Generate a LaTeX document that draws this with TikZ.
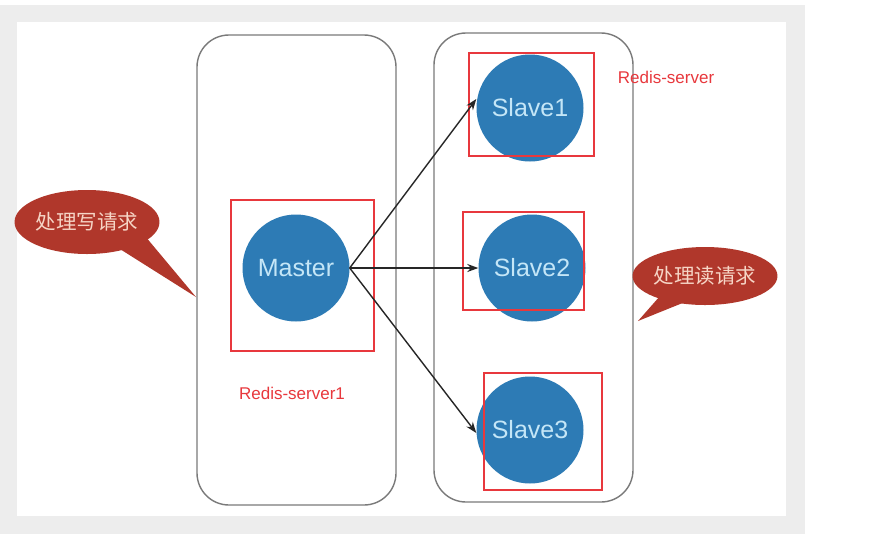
\documentclass[tikz,border=0pt]{standalone}
\usepackage{fontspec}
\setmainfont{Liberation Sans}
\newfontfamily\cjk{Noto Sans CJK SC}
\usetikzlibrary{arrows.meta,shapes.geometric}
\definecolor{nodeblue}{HTML}{2D7BB5}
\definecolor{nodetext}{HTML}{C4E6F7}
\definecolor{bubred}{HTML}{B0372B}
\definecolor{bubtext}{HTML}{F6D5C6}
\definecolor{redbox}{HTML}{E8383D}
\definecolor{bggray}{HTML}{EDEDED}
\definecolor{boxgray}{HTML}{7A7A7A}
\tikzset{
  server/.style={draw=boxgray, line width=1.4pt, rounded corners=32pt, fill=white},
  redis/.style={circle, fill=nodeblue, minimum size=107pt, inner sep=0pt, text=nodetext, font=\fontsize{25}{27}\selectfont},
  hl/.style={draw=redbox, line width=1.5pt},
  lbl/.style={text=redbox, font=\fontsize{17}{19}\selectfont},
  bub/.style={ellipse, fill=bubred, text=bubtext, inner sep=0pt, font=\cjk\fontsize{20.5}{22}\selectfont},
  conn/.style={-{Stealth[length=11pt,width=8pt]}, line width=1.4pt, black!85}
}
\begin{document}
\begin{tikzpicture}[x=1pt,y=-1pt]
\useasboundingbox (0,0) rectangle (892,550);
\fill[white] (0,0) rectangle (892,550);
\fill[bggray] (0,5) rectangle (805,534);
\fill[white] (17,22) rectangle (786,516);
% server boxes
\draw[server] (197,35) rectangle (396,505);
\draw[server] (434,33) rectangle (633,502);
% nodes
\node[redis] (master) at (296,268) {Master};
\node[redis] (s1) at (530,108) {Slave1};
\node[redis] (s2) at (532,268) {Slave2};
\node[redis] (s3) at (530,430) {Slave3};
% highlight rectangles
\draw[hl] (231,200) rectangle (374,351);
\draw[hl] (469,53) rectangle (594,156);
\draw[hl] (463,212) rectangle (584,310);
\draw[hl] (484,373) rectangle (602,490);
% connectors
\draw[conn] (master.east) -- (s1.west |- 0,99) ;
\draw[conn] (master.east) -- (s2.west);
\draw[conn] (master.east) -- (s3.west |- 0,433);
% labels
\node[lbl] (lab1) at (666,77) {Redis-server};
\node[lbl] (lab2) at (292,393) {Redis-server1};
% speech bubbles
\coordinate (t1) at (196,297);
\coordinate (t2) at (638,321);
\fill[bubred] (112,244) -- (t1) -- (145,236) -- cycle;
\node[bub, minimum width=140pt, minimum height=64pt] (b1) at (87,222) {处理写请求};
\fill[bubred] (660,296) -- (t2) -- (690,300) -- cycle;
\node[bub, minimum width=142pt, minimum height=58pt] (b2) at (705,276) {处理读请求};
\end{tikzpicture}
\end{document}
